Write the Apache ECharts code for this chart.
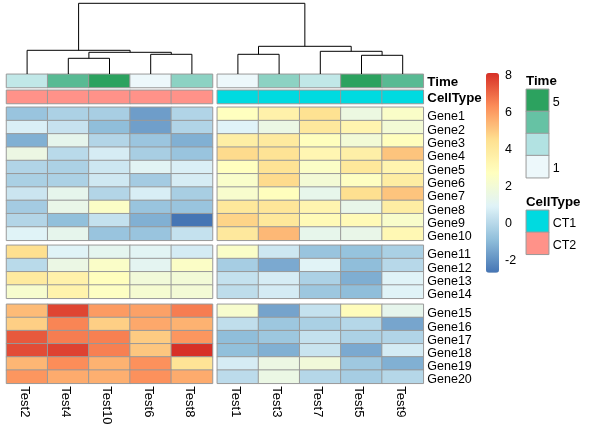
<!DOCTYPE html>
<html>
<head>
<meta charset="utf-8">
<style>html,body{margin:0;padding:0;background:#fff}#main{width:602px;height:436px}</style>
<script src="https://cdn.jsdelivr.net/npm/echarts@6/dist/echarts.min.js"></script>
</head>
<body>
<div id="main"></div>
<script>
// column order as clustered
var colsLeft = ['Test2','Test4','Test10','Test6','Test8'];
var colsRight = ['Test1','Test3','Test7','Test5','Test9'];
var genes1 = ['Gene1','Gene2','Gene3','Gene4','Gene5','Gene6','Gene7','Gene8','Gene9','Gene10'];
var genes2 = ['Gene11','Gene12','Gene13','Gene14'];
var genes3 = ['Gene15','Gene16','Gene17','Gene18','Gene19','Gene20'];

// expression, one row per gene
var left1 = [
 [-0.75,-0.3,-0.4,-1.75,-0.2],
 [0.75,0.3,-0.95,-1.7,-0.2],
 [-1.3,1.25,-0.15,-0.7,-1.3],
 [1.55,0,0.65,-0.4,-0.75],
 [-0.2,-0.3,0.45,1.0,0.75],
 [-0.35,-0.3,0.5,-0.5,0.65],
 [0.4,1.25,-0.15,0.7,-0.4],
 [-0.5,1.4,2.45,-0.75,-0.75],
 [-0.15,-0.9,0.25,-1.3,-2.73],
 [0.9,1.25,-0.75,-0.75,0.25]
];
var right1 = [
 [2.7,3.5,4.4,1.6,2.4],
 [0.88,1.5,4.0,3.3,2.0],
 [3.7,3.9,2.75,1.95,2.75],
 [4.6,4.3,3.2,3.6,5.1],
 [2.7,4.3,2.45,4.05,3.3],
 [2.35,4.6,2.0,2.6,3.75],
 [2.25,2.75,1.3,4.5,5.1],
 [4.05,4.15,3.3,1.35,3.75],
 [4.75,4.05,3.0,3.0,2.3],
 [4.0,5.35,1.3,1.4,3.1]
];
var left2 = [
 [4.5,0.9,1.15,1.0,0.6],
 [0,1.5,2.4,1.1,2.45],
 [3.9,3.5,2.75,1.85,1.95],
 [2.2,3.4,2.55,2.1,2.0]
];
var right2 = [
 [2.4,0.45,-0.75,-0.8,-0.35],
 [-0.45,-1.45,0.95,-0.95,-0.05],
 [0.25,0.65,-0.3,-1.35,0.9],
 [0.1,0.6,-0.65,-0.95,0.9]
];
var left3 = [
 [5.3,7.7,6.0,5.85,6.6],
 [4.85,6.45,4.85,5.7,5.5],
 [7.3,6.6,6.55,4.95,6.1],
 [7.55,7.75,6.55,5.05,8.1],
 [5.4,6.3,5.5,6.2,4.25],
 [6.1,5.65,5.55,6.2,5.65]
];
var right3 = [
 [2.2,-1.6,0.25,2.85,1.25],
 [0.15,-0.65,-0.35,-0.1,-1.55],
 [-0.95,-0.65,0.25,-0.3,-0.2],
 [-0.9,-1.3,0.35,-1.45,0.6],
 [0.65,1.55,1.85,-0.6,-1.3],
 [0.05,1.5,-0.1,-0.45,-0.1]
];

// column annotations
var timeLeft = [2,4,5,1,3];
var timeRight = [1,3,2,5,4];
var cellTypeLeft = [2,2,2,2,2];
var cellTypeRight = [1,1,1,1,1];

// legends
var exprMin = -2.73, exprMax = 8.1;
var exprTicks = [-2,0,2,4,6,8];
var timeLevels = [1,2.33,3.67,5];
var timeLevelLabels = ['1','','','5'];
var cellTypeNames = ['CT1','CT2'];
var cellTypeCodes = [1,2];

// dendrogram merges: [a, b, height]; a/b are a column name or index of an earlier merge
var merges = [
 ['Test4','Test10',15.7],
 ['Test6','Test8',19.7],
 [0,1,21.7],
 ['Test2',2,23.7],
 ['Test1','Test3',19.7],
 ['Test5','Test9',18.7],
 ['Test7',5,22.7],
 [4,6,27.7],
 [3,7,70.7]
];

var exprColors = ['#4575B4','#91BFDB','#E0F3F8','#FFFFBF','#FEE090','#FC8D59','#D73027'];
var timeColors = ['#EDF8FB','#B2E2E2','#66C2A4','#2CA25F'];
var cellTypeColors = ['#00DAE0','#FF9289'];
var FONT = 'Liberation Sans';

var XL = 6.5, XR = 217.3, CW = 206;
var grids = [], xAxes = [], yAxes = [], series = [];
var exprIdx = [], timeIdx = [], typeIdx = [];

// rich label with a top padding, which nudges the text off the band centre
function nudged(padTop, size, weight) {
    return {formatter:'{a|{value}}', rich:{a:{padding:[padTop,0,0,0], fontFamily:FONT, fontSize:size, fontWeight:weight, color:'#000'}}};
}

// one heatmap panel = grid + two category axes + series
function panel(left, top, width, height, xs, ys, rows, opt) {
    opt = opt || {};
    var i = grids.length;
    grids.push({left:left, top:top, width:width, height:height});
    var xl = nudged(5, 13, 'normal');
    xl.show = !!opt.xLabels; xl.rotate = -90; xl.margin = 3; xl.interval = 0;
    var yl = nudged(opt.pad || 6, opt.bold ? 13.3 : 12.5, opt.bold ? 'bold' : 'normal');
    yl.show = !!opt.yLabels; yl.margin = opt.margin || 4; yl.interval = 0;
    xAxes.push({type:'category', gridIndex:i, data:xs, position:'bottom',
        axisLine:{show:false}, axisTick:{show:false}, splitLine:{show:false}, axisLabel:xl});
    yAxes.push({type:'category', gridIndex:i, data:ys, inverse:true, position:'right',
        axisLine:{show:false}, axisTick:{show:false}, splitLine:{show:false}, axisLabel:yl});
    var d = [];
    rows.forEach(function(r, y) { r.forEach(function(v, x) { d.push([x, y, v]); }); });
    series.push({type:'heatmap', xAxisIndex:i, yAxisIndex:i, data:d, silent:true,
        itemStyle:{borderColor:'#999999', borderWidth:1}, emphasis:{disabled:true}, progressive:0, animation:false});
    return series.length - 1;
}

var rowH1 = 133, rowH2 = 53, rowH3 = 79;
timeIdx.push(panel(XL, 74.3, CW, 13.2, colsLeft, ['Time'], [timeLeft]));
timeIdx.push(panel(XR, 74.3, CW, 13.2, colsRight, ['Time'], [timeRight], {yLabels:true, bold:true, pad:3}));
typeIdx.push(panel(XL, 90.3, CW, 13.2, colsLeft, ['CellType'], [cellTypeLeft]));
typeIdx.push(panel(XR, 90.3, CW, 13.2, colsRight, ['CellType'], [cellTypeRight], {yLabels:true, bold:true, pad:3}));
exprIdx.push(panel(XL, 107.3, CW, rowH1, colsLeft, genes1, left1));
exprIdx.push(panel(XR, 107.3, CW, rowH1, colsRight, genes1, right1, {yLabels:true}));
exprIdx.push(panel(XL, 245.3, CW, rowH2, colsLeft, genes2, left2));
exprIdx.push(panel(XR, 245.3, CW, rowH2, colsRight, genes2, right2, {yLabels:true}));
exprIdx.push(panel(XL, 304.3, CW, rowH3, colsLeft, genes3, left3, {xLabels:true}));
exprIdx.push(panel(XR, 304.3, CW, rowH3, colsRight, genes3, right3, {xLabels:true, yLabels:true}));

// legends for annotations
timeIdx.push(panel(526.3, 89.3, 22.4, 88.4, [''], timeLevelLabels.slice().reverse(),
    timeLevels.slice().reverse().map(function(v){return [v];}), {yLabels:true, margin:4, pad:4}));
typeIdx.push(panel(526.3, 210.3, 22.4, 44, [''], cellTypeNames,
    cellTypeCodes.map(function(v){return [v];}), {yLabels:true, margin:4, pad:4}));

// axis only, carries the colour bar tick labels
var barGrid = grids.length;
var barLabel = nudged(2, 12.5, 'normal');
barLabel.margin = 6; barLabel.customValues = exprTicks;
grids.push({left:486, top:73, width:13, height:199.7});
xAxes.push({type:'value', gridIndex:barGrid, show:false});
yAxes.push({type:'value', gridIndex:barGrid, position:'right', min:exprMin, max:exprMax,
    axisLine:{show:false}, axisTick:{show:false}, splitLine:{show:false}, axisLabel:barLabel});

// dendrogram
var gapCols = (XR - XL - CW) / (CW / 5);
var leafX = {};
colsLeft.forEach(function(c, i) { leafX[c] = i + 0.5; });
colsRight.forEach(function(c, i) { leafX[c] = 5 + gapCols + i + 0.5; });
var nodes = [], links = [];
function nodeOf(k) { return typeof k === 'string' ? {x:leafX[k], h:0} : nodes[k]; }
merges.forEach(function(m) {
    var a = nodeOf(m[0]), b = nodeOf(m[1]);
    links.push([a.x, a.h, b.x, b.h, m[2]]);
    nodes.push({x:(a.x + b.x) / 2, h:m[2]});
});
var treeGrid = grids.length;
grids.push({left:XL, top:3.3, width:XR + CW - XL, height:70.7});
xAxes.push({type:'value', gridIndex:treeGrid, show:false, min:0, max:10 + gapCols});
yAxes.push({type:'value', gridIndex:treeGrid, show:false, min:0, max:70.7});
series.push({type:'custom', xAxisIndex:treeGrid, yAxisIndex:treeGrid, data:links, silent:true, animation:false, clip:false,
    encode:{x:[0,2], y:[1,3,4]},
    renderItem:function(params, api) {
        var h = api.value(4);
        var p = [api.coord([api.value(0), api.value(1)]), api.coord([api.value(0), h]),
                 api.coord([api.value(2), h]), api.coord([api.value(2), api.value(3)])];
        return {type:'polyline', shape:{points:p}, style:{stroke:'#000', lineWidth:1, fill:null}};
    }});

var myChart = echarts.init(document.getElementById('main'), null, {renderer:'canvas'});
myChart.setOption({
    animation:false,
    backgroundColor:'#fff',
    title:[
        {text:'Time', left:526, top:75, padding:0, textStyle:{fontFamily:FONT, fontSize:13.3, fontWeight:'bold', color:'#000'}},
        {text:'CellType', left:526, top:196, padding:0, textStyle:{fontFamily:FONT, fontSize:13.3, fontWeight:'bold', color:'#000'}}
    ],
    grid:grids, xAxis:xAxes, yAxis:yAxes,
    visualMap:[
        {type:'continuous', seriesIndex:exprIdx, dimension:2, min:exprMin, max:exprMax, left:486, top:73, padding:0,
         itemWidth:13, itemHeight:199.7, text:null, showLabel:false, calculable:false, hoverLink:false, realtime:false,
         inRange:{color:exprColors}},
        {type:'continuous', seriesIndex:timeIdx, dimension:2, min:1, max:5, show:false, inRange:{color:timeColors}},
        {type:'continuous', seriesIndex:typeIdx, dimension:2, min:1, max:2, show:false, inRange:{color:cellTypeColors}}
    ],
    series:series
});
</script>
</body>
</html>
